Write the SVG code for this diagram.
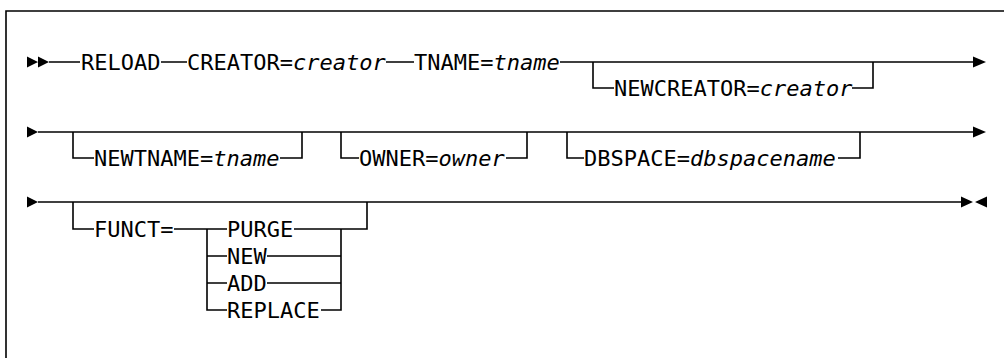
<svg xmlns="http://www.w3.org/2000/svg" width="1004" height="358" viewBox="0 0 1004 358">
<style>
  .ln{fill:none;stroke:#000;stroke-width:1.6}
  .fr{fill:none;stroke:#000;stroke-width:1.6}
  .t{font-family:"DejaVu Sans Mono","Liberation Mono",monospace;font-size:22px;fill:#000}
  .i{font-style:italic}
  .ah{fill:#000}
</style>
<rect width="1004" height="358" fill="#fff"/>
<path class="fr" d="M6,358 V11 H1004"/>
<g id="connectors">
  <!-- row 1 -->
  <path class="ah" d="M27,56.5 L38,62 L27,67.5 Z M38,56.5 L49,62 L38,67.5 Z"/>
  <path class="ln" d="M49,62 H80 M161,62 H187 M386,62 H414 M560,62 H974"/>
  <path class="ah" d="M973,56.5 L986,62 L973,67.5 Z"/>
  <path class="ln" d="M593,62 V88 H614 M852,88 H873 V62"/>
  <!-- row 2 -->
  <path class="ah" d="M27,126.5 L38,132 L27,137.5 Z"/>
  <path class="ln" d="M38,132 H974"/>
  <path class="ah" d="M973,126.5 L986,132 L973,137.5 Z"/>
  <path class="ln" d="M73,132 V158 H94 M280,158 H302 V132"/>
  <path class="ln" d="M341,132 V158 H359 M506,158 H527 V132"/>
  <path class="ln" d="M567,132 V158 H584 M838,158 H860 V132"/>
  <!-- row 3 -->
  <path class="ah" d="M27,196.5 L38,202 L27,207.5 Z"/>
  <path class="ln" d="M38,202 H962"/>
  <path class="ah" d="M961,196.5 L973,202 L961,207.5 Z M987,196.5 L975,202 L987,207.5 Z"/>
  <path class="ln" d="M73,202 V229 H94 M174,229 H227 M207,229 V310 H227 M207,256 H227 M207,283 H227"/>
  <path class="ln" d="M294,229 H367 V202 M341,229 V310 H321 M267,256 H341 M267,283 H341"/>
</g>
<g id="n-reload"><text class="t" x="81" y="70">RELOAD</text></g>
<g id="n-creator"><text class="t" x="187" y="70">CREATOR=<tspan class="i">creator</tspan></text></g>
<g id="n-tname"><text class="t" x="414" y="70">TNAME=<tspan class="i">tname</tspan></text></g>
<g id="n-newcreator"><text class="t" x="614" y="96">NEWCREATOR=<tspan class="i">creator</tspan></text></g>
<g id="n-newtname"><text class="t" x="94" y="166">NEWTNAME=<tspan class="i">tname</tspan></text></g>
<g id="n-owner"><text class="t" x="359" y="166">OWNER=<tspan class="i">owner</tspan></text></g>
<g id="n-dbspace"><text class="t" x="584" y="166">DBSPACE=<tspan class="i">dbspacename</tspan></text></g>
<g id="n-funct"><text class="t" x="94" y="237">FUNCT=</text></g>
<g id="n-purge"><text class="t" x="227" y="237">PURGE</text></g>
<g id="n-new"><text class="t" x="227" y="264">NEW</text></g>
<g id="n-add"><text class="t" x="227" y="291">ADD</text></g>
<g id="n-replace"><text class="t" x="227" y="318">REPLACE</text></g>
</svg>
